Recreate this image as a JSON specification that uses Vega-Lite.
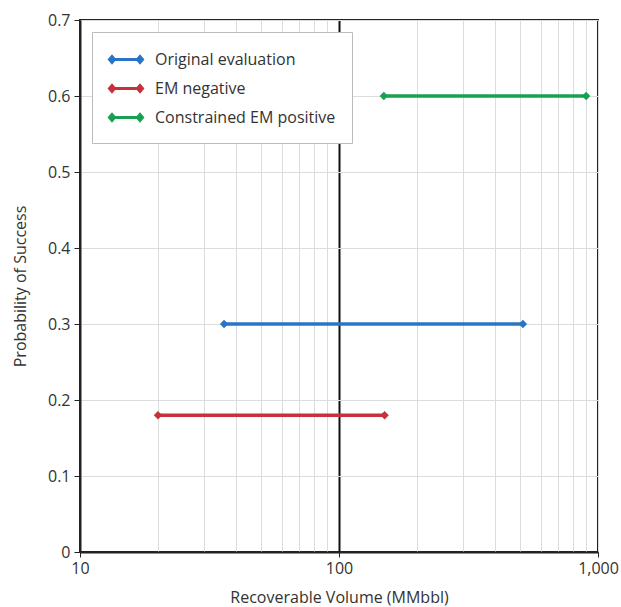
{
  "$schema": "https://vega.github.io/schema/vega-lite/v6.json",
  "autosize": "none",
  "width": 518,
  "height": 532,
  "padding": {"left": 80, "top": 20, "right": 23, "bottom": 55},
  "background": "white",
  "config": {
    "font": "Open Sans",
    "view": {"stroke": "#222", "strokeWidth": 2}
  },
  "data": {
    "values": [
      {"series": "Original evaluation", "x": 36, "y": 0.3},
      {"series": "Original evaluation", "x": 513, "y": 0.3},
      {"series": "EM negative", "x": 20, "y": 0.18},
      {"series": "EM negative", "x": 150, "y": 0.18},
      {"series": "Constrained EM positive", "x": 149, "y": 0.6},
      {"series": "Constrained EM positive", "x": 900, "y": 0.6}
    ]
  },
  "encoding": {
    "x": {
      "field": "x", "type": "quantitative",
      "scale": {"type": "log", "domain": [10, 1000], "nice": false},
      "axis": {
        "title": "Recoverable Volume (MMbbl)",
        "values": [10,20,30,40,50,60,70,80,90,100,200,300,400,500,600,700,800,900,1000],
        "labelExpr": "datum.value == 10 || datum.value == 100 || datum.value == 1000 ? format(datum.value, ',') : ''",
        "labelFontSize": 16, "labelColor": "#333", "labelPadding": 3,
        "titleFontSize": 16, "titleColor": "#333", "titleFontWeight": "normal", "titlePadding": 13,
        "domainColor": "#222", "domainWidth": 2,
        "tickSize": 5,
        "tickColor": "#222",
        "tickOpacity": {"condition": {"test": "datum.value == 10 || datum.value == 100 || datum.value == 1000", "value": 1}, "value": 0},
        "gridColor": {"condition": {"test": "datum.value == 100", "value": "#111"}, "value": "#dcdcdc"},
        "gridWidth": {"condition": {"test": "datum.value == 100", "value": 2}, "value": 1},
        "labelFlush": false
      }
    },
    "y": {
      "field": "y", "type": "quantitative",
      "scale": {"domain": [0, 0.7], "nice": false},
      "axis": {
        "title": "Probability of Success",
        "values": [0, 0.1, 0.2, 0.3, 0.4, 0.5, 0.6, 0.7],
        "labelExpr": "datum.value == 0 ? '0' : format(datum.value, '.1f')",
        "labelFontSize": 16, "labelColor": "#333", "labelPadding": 4,
        "titleFontSize": 16, "titleColor": "#333", "titleFontWeight": "normal", "titlePadding": 19,
        "domainColor": "#222", "domainWidth": 2,
        "tickSize": 6, "tickColor": "#222",
        "gridColor": "#dcdcdc", "gridWidth": 1
      }
    },
    "color": {
      "field": "series", "type": "nominal",
      "scale": {
        "domain": ["Original evaluation", "EM negative", "Constrained EM positive"],
        "range": ["#2A74C6", "#C8303A", "#17A04F"]
      },
      "legend": {
        "title": null,
        "orient": "none",
        "legendX": 12,
        "legendY": 12,
        "direction": "vertical",
        "fillColor": "white",
        "strokeColor": "#bbbbbb",
        "padding": 16,
        "labelFontSize": 16,
        "labelColor": "#333",
        "labelLimit": 400,
        "labelOffset": 24,
        "rowPadding": 8,
        "symbolType": "M-0.75,0H2.05M-1,0L-0.75,-0.3L-0.5,0L-0.75,0.3ZM1.8,0L2.05,-0.3L2.3,0L2.05,0.3Z",
        "symbolSize": 400,
        "symbolStrokeWidth": 3,
        "encode": {
          "symbols": {
            "update": {
              "fill": {"scale": "color", "field": "value"},
              "stroke": {"scale": "color", "field": "value"},
              "strokeWidth": {"value": 3}
            }
          }
        }
      }
    }
  },
  "layer": [
    {
      "mark": {"type": "line", "strokeWidth": 3.5},
      "encoding": {"detail": {"field": "series"}}
    },
    {
      "mark": {"type": "point", "shape": "diamond", "filled": true, "size": 70, "opacity": 1}
    }
  ]
}
